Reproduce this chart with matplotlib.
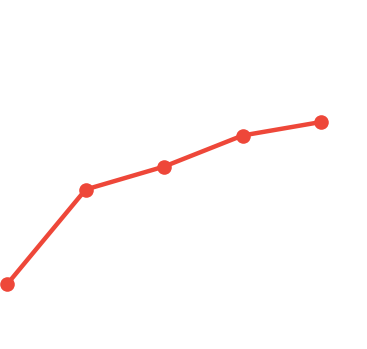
import matplotlib
matplotlib.use("Agg")
import matplotlib.pyplot as plt

categories = [0, 1, 2, 3, 4]
values = [20, 55, 63.5, 75, 80]

fig = plt.figure(figsize=(3.67, 3.49), dpi=100)
ax = fig.add_axes([0, 0, 1, 1])
ax.plot(categories, values, color="#ee4739", linewidth=3.2, marker="o",
        markersize=10.5, markerfacecolor="#ee4739", markeredgewidth=0,
        solid_capstyle="round", clip_on=False)
ax.set_xlim(-0.0931, 4.588)
ax.set_ylim(-4.07, 125.19)
ax.axis("off")
fig.savefig("out.png", dpi=100)
